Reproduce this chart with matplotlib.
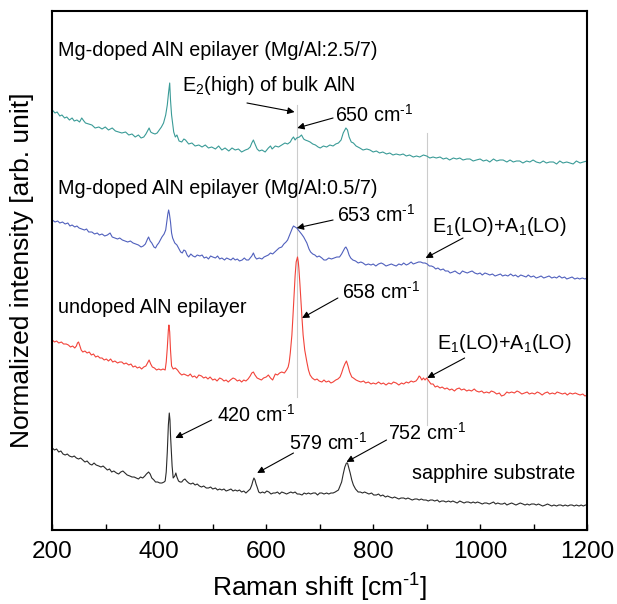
import matplotlib
matplotlib.use("Agg")
import matplotlib.pyplot as plt
from matplotlib.ticker import MultipleLocator

plt.rcParams['font.family'] = ['Liberation Sans', 'DejaVu Sans']
plt.rcParams['mathtext.fontset'] = 'custom'
plt.rcParams['mathtext.rm'] = 'Liberation Sans'
plt.rcParams['mathtext.it'] = 'Liberation Sans:italic'
plt.rcParams['mathtext.default'] = 'regular'

# Mg-doped AlN epilayer (Mg/Al:2.5/7)
x_mg25 = [200, 205, 209, 214, 218, 223, 227, 232, 237, 241, 246, 251, 255, 259, 262, 268, 274, 280, 287, 293,
          299, 305, 312, 318, 324, 330, 337, 343, 349, 355, 361, 366, 371, 375, 378, 381, 384, 387, 392, 396,
          400, 404, 408, 412, 415, 417.5, 419.5, 421, 423, 427, 430, 433, 437, 442, 446, 449, 455, 461, 467, 474,
          480, 486, 492, 498, 505, 511, 517, 523, 530, 536, 542, 548, 554, 561, 566, 570, 573, 576, 579, 583,
          587, 592, 598, 604, 608, 611, 617, 623, 629, 635, 640, 645, 648, 651, 654, 657, 662, 666, 670, 673,
          678, 682, 687, 692, 697, 701, 707, 713, 719, 725, 730, 735, 740, 744, 749, 752, 755, 759, 763, 768,
          775, 781, 788, 794, 800, 806, 812, 818, 825, 831, 837, 843, 850, 856, 862, 868, 875, 881, 887, 894,
          900, 906, 912, 918, 925, 931, 937, 943, 950, 956, 962, 968, 975, 981, 987, 993, 1000, 1006, 1012, 1018,
          1025, 1031, 1037, 1043, 1050, 1056, 1062, 1068, 1074, 1080, 1087, 1093, 1099, 1105, 1112, 1118, 1124, 1130, 1137, 1143,
          1149, 1155, 1162, 1168, 1174, 1180, 1187, 1193, 1200]
y_mg25 = [420, 417, 418, 414, 415, 412, 413, 410, 412, 409, 410, 408, 412, 409, 407, 406, 405, 402, 403, 401,
          403, 400, 402, 399, 398, 397, 398, 395, 396, 393, 395, 392, 393, 396, 399, 402, 398, 397, 396, 397,
          400, 403, 407, 415, 425, 438, 447, 430, 415, 398, 393, 395, 389, 388, 391, 390, 386, 387, 384, 385,
          383, 385, 382, 383, 381, 384, 380, 382, 379, 382, 380, 381, 378, 380, 381, 383, 387, 390, 386, 381,
          379, 380, 378, 382, 384, 381, 384, 383, 385, 387, 386, 388, 391, 393, 390, 392, 393, 395, 391, 390,
          389, 388, 386, 385, 383, 382, 384, 383, 385, 384, 386, 387, 390, 397, 402, 400, 393, 388, 387, 384,
          382, 380, 381, 380, 378, 379, 377, 378, 376, 377, 375, 376, 375, 376, 374, 375, 373, 374, 373, 375,
          374, 372, 373, 372, 373, 371, 372, 370, 372, 371, 372, 370, 371, 371, 369, 370, 371, 369, 370, 368,
          371, 369, 370, 370, 368, 370, 368, 369, 369, 367, 369, 368, 370, 368, 367, 369, 367, 368, 368, 366,
          369, 367, 368, 367, 366, 369, 367, 368, 369]

# Mg-doped AlN epilayer (Mg/Al:0.5/7)
x_mg05 = [200, 205, 210, 214, 219, 224, 229, 233, 237, 242, 246, 250, 255, 260, 264, 268, 274, 279, 284, 288,
          293, 298, 303, 308, 312, 317, 322, 326, 331, 336, 341, 346, 351, 356, 361, 366, 370, 374, 378, 380,
          383, 386, 390, 393, 396, 399, 402, 405, 409, 412, 414, 416, 417.5, 419, 421, 423, 425, 429, 433, 437,
          440, 443, 446, 449, 452, 455, 459, 463, 467, 471, 476, 480, 484, 488, 492, 496, 500, 505, 509, 513,
          517, 522, 526, 530, 534, 538, 542, 546, 550, 555, 559, 563, 567, 570, 573, 576, 579, 582, 587, 592,
          596, 600, 604, 608, 612, 616, 620, 624, 629, 633, 637, 640, 643, 646, 649, 651, 654, 657, 660, 663,
          666, 670, 673, 676, 680, 683, 687, 691, 695, 699, 704, 708, 712, 717, 722, 727, 732, 737, 741, 744,
          747, 749, 752, 755, 758, 762, 767, 772, 777, 781, 786, 791, 796, 800, 805, 810, 815, 819, 824, 829,
          834, 838, 843, 848, 853, 857, 862, 866, 871, 875, 880, 885, 889, 893, 897, 901, 905, 909, 913, 917,
          921, 926, 931, 935, 940, 944, 949, 953, 958, 962, 967, 971, 976, 980, 985, 990, 995, 1000, 1004, 1009,
          1014, 1018, 1023, 1028, 1033, 1038, 1042, 1047, 1052, 1057, 1062, 1066, 1071, 1076, 1081, 1086, 1090, 1095, 1100, 1105,
          1110, 1114, 1119, 1124, 1129, 1134, 1139, 1143, 1148, 1153, 1158, 1162, 1167, 1172, 1177, 1182, 1186, 1191, 1196, 1200]
y_mg05 = [310, 308, 309, 307, 308, 306, 307, 304, 305, 303, 304, 302, 301, 300, 301, 298, 298, 296, 297, 295,
          296, 294, 295, 297, 293, 292, 291, 292, 290, 289, 288, 289, 287, 286, 285, 283, 284, 286, 291, 293,
          289, 287, 283, 282, 285, 287, 290, 293, 296, 300, 308, 316, 320, 316, 308, 297, 292, 287, 285, 281,
          278, 277, 280, 279, 275, 273, 276, 274, 273, 275, 274, 275, 272, 273, 271, 274, 273, 272, 274, 271,
          272, 270, 272, 271, 270, 272, 270, 271, 269, 270, 272, 270, 270, 272, 274, 277, 273, 271, 272, 271,
          273, 274, 275, 277, 276, 278, 280, 282, 283, 286, 288, 290, 294, 298, 302, 304, 303, 302, 300, 298,
          296, 293, 290, 287, 281, 278, 276, 275, 273, 274, 272, 270, 270, 272, 271, 272, 273, 273, 276, 279,
          282, 283, 280, 275, 272, 270, 269, 267, 268, 267, 265, 266, 265, 266, 264, 266, 267, 266, 264, 265,
          266, 265, 264, 266, 265, 267, 265, 266, 268, 266, 267, 268, 268, 267, 267, 266, 264, 264, 263, 261,
          262, 260, 261, 259, 259, 257, 258, 259, 257, 256, 259, 258, 257, 258, 259, 257, 256, 257, 255, 257,
          256, 255, 256, 254, 255, 256, 254, 255, 254, 256, 254, 255, 253, 255, 254, 253, 255, 253, 254, 252,
          253, 254, 252, 253, 254, 252, 253, 252, 254, 252, 253, 251, 252, 253, 251, 252, 251, 252, 251, 252]

# undoped AlN epilayer
x_undoped = [200, 204, 208, 212, 217, 221, 226, 230, 234, 238, 242, 245, 247, 249, 251, 254, 257, 261, 265, 269,
             273, 277, 281, 285, 289, 293, 297, 301, 305, 309, 313, 317, 322, 326, 330, 334, 338, 343, 347, 351,
             355, 359, 363, 367, 371, 375, 378, 381, 384, 387, 391, 395, 399, 403, 407, 411, 413, 415, 417, 418,
             419.5, 421, 423, 426, 430, 434, 438, 442, 446, 450, 454, 458, 462, 466, 470, 474, 479, 483, 487, 491,
             495, 500, 504, 508, 513, 517, 521, 525, 529, 533, 538, 542, 546, 550, 554, 558, 562, 566, 570, 573,
             576, 579, 583, 587, 591, 595, 600, 604, 608, 612, 617, 621, 625, 629, 634, 638, 641, 643, 645, 648,
             650, 652, 654, 656, 658.5, 660, 661, 663, 665, 667, 669, 672, 676, 679, 682, 686, 691, 695, 699, 704,
             708, 712, 717, 721, 725, 730, 734, 738, 741, 744, 747, 750, 753, 756, 760, 763, 768, 772, 777, 782,
             786, 791, 796, 800, 805, 810, 815, 819, 824, 829, 834, 838, 843, 848, 853, 857, 862, 866, 871, 875,
             880, 883, 886, 888, 891, 894, 897, 900, 904, 908, 912, 916, 920, 925, 929, 934, 938, 943, 947, 952,
             956, 961, 965, 970, 975, 979, 984, 989, 993, 998, 1003, 1007, 1012, 1017, 1021, 1026, 1031, 1036, 1040, 1045,
             1050, 1054, 1059, 1064, 1069, 1073, 1078, 1083, 1088, 1092, 1097, 1102, 1107, 1111, 1116, 1121, 1126, 1130, 1135, 1140,
             1144, 1149, 1154, 1159, 1163, 1168, 1173, 1178, 1182, 1187, 1192, 1196, 1200]
y_undoped = [190, 188, 189, 187, 188, 186, 186, 185, 183, 184, 182, 184, 187, 188, 185, 180, 178, 179, 177, 178,
             175, 176, 173, 174, 172, 172, 170, 171, 169, 171, 168, 169, 167, 168, 168, 166, 167, 165, 166, 163,
             164, 162, 163, 161, 163, 164, 167, 170, 166, 163, 162, 160, 161, 160, 161, 160, 168, 182, 200, 205,
             198, 180, 164, 161, 162, 160, 157, 155, 156, 155, 154, 156, 153, 154, 152, 155, 154, 152, 153, 151,
             153, 150, 151, 149, 152, 151, 149, 150, 148, 150, 152, 151, 149, 150, 148, 150, 149, 151, 154, 157,
             158, 155, 152, 151, 150, 152, 153, 155, 152, 150, 156, 155, 157, 158, 157, 160, 163, 168, 177, 195,
             214, 235, 254, 268, 273, 268, 262, 246, 228, 211, 195, 180, 168, 160, 155, 152, 150, 151, 149, 148,
             150, 148, 149, 147, 148, 150, 151, 153, 157, 162, 166, 169, 164, 158, 153, 152, 150, 149, 148, 149,
             147, 148, 146, 147, 146, 148, 146, 147, 145, 147, 146, 148, 147, 145, 147, 146, 148, 147, 149, 148,
             149, 151, 154, 153, 150, 152, 150, 152, 149, 146, 146, 143, 144, 142, 143, 141, 142, 140, 141, 139,
             141, 142, 140, 141, 139, 140, 139, 141, 139, 138, 139, 137, 138, 137, 139, 138, 136, 137, 134, 135,
             138, 137, 138, 137, 139, 138, 136, 137, 138, 136, 137, 136, 138, 137, 135, 137, 138, 136, 137, 136,
             138, 137, 136, 137, 135, 137, 136, 137, 136, 135, 136, 134, 135]

# sapphire substrate
x_sapphire = [200, 204, 208, 212, 216, 220, 224, 228, 232, 237, 241, 245, 249, 253, 257, 261, 265, 270, 274, 278,
              282, 287, 291, 295, 299, 303, 307, 311, 315, 320, 324, 328, 332, 336, 340, 345, 349, 353, 357, 361,
              365, 369, 373, 376, 378, 380, 383, 386, 390, 393, 397, 401, 405, 409, 411, 413, 415, 417, 418.7, 420,
              421, 422.5, 424, 426, 429, 431, 433, 436, 439, 442, 445, 448, 451, 455, 459, 463, 467, 471, 475, 479,
              483, 488, 492, 496, 500, 505, 509, 513, 517, 521, 525, 530, 534, 538, 542, 546, 550, 554, 558, 562,
              566, 570, 573, 575, 577, 579, 581, 583, 586, 589, 593, 597, 601, 605, 609, 613, 617, 621, 625, 629,
              634, 638, 642, 646, 650, 654, 658, 662, 667, 671, 675, 679, 683, 688, 692, 696, 700, 704, 708, 713,
              717, 721, 725, 729, 732, 735, 738, 741, 744, 747, 750, 752, 754, 757, 760, 763, 767, 772, 776, 780,
              784, 788, 792, 797, 801, 806, 810, 814, 818, 823, 827, 831, 836, 840, 844, 848, 852, 857, 861, 865,
              869, 873, 878, 882, 886, 890, 894, 899, 903, 907, 911, 915, 920, 924, 928, 932, 936, 941, 945, 949,
              953, 957, 962, 966, 970, 974, 978, 983, 987, 991, 995, 1000, 1004, 1008, 1012, 1017, 1021, 1025, 1029, 1033,
              1038, 1042, 1046, 1050, 1054, 1059, 1063, 1067, 1071, 1075, 1080, 1084, 1088, 1092, 1096, 1101, 1105, 1109, 1113, 1117,
              1122, 1126, 1130, 1134, 1138, 1143, 1147, 1151, 1155, 1159, 1164, 1168, 1172, 1176, 1180, 1185, 1189, 1193, 1197, 1200]
y_sapphire = [82, 80, 81, 78, 79, 76, 75, 76, 74, 73, 74, 72, 71, 72, 70, 68, 69, 66, 65, 67,
              65, 64, 63, 64, 62, 60, 61, 58, 59, 57, 56, 58, 59, 57, 55, 54, 53, 53, 52, 51,
              53, 52, 54, 56, 57, 58, 56, 52, 50, 48, 48, 47, 47, 48, 49, 58, 78, 105, 117, 110,
              95, 80, 64, 52, 54, 57, 53, 49, 48, 48, 50, 51, 49, 47, 46, 47, 45, 46, 44, 43,
              44, 42, 42, 43, 41, 42, 40, 41, 40, 41, 39, 40, 41, 39, 40, 39, 40, 38, 39, 37,
              39, 41, 45, 49, 52, 50, 46, 43, 38, 37, 38, 37, 39, 38, 36, 37, 37, 38, 36, 38,
              37, 36, 37, 38, 37, 38, 36, 36, 35, 37, 36, 37, 36, 37, 37, 35, 37, 37, 36, 37,
              36, 37, 37, 38, 39, 40, 44, 48, 56, 63, 67, 67, 63, 57, 50, 45, 41, 38, 38, 37,
              38, 37, 36, 37, 35, 35, 36, 34, 35, 33, 34, 33, 32, 33, 32, 31, 32, 32, 31, 32,
              31, 30, 31, 31, 30, 31, 30, 30, 29, 30, 30, 29, 30, 28, 29, 29, 28, 29, 28, 29,
              28, 27, 29, 28, 27, 28, 28, 27, 28, 27, 28, 27, 26, 27, 27, 26, 27, 28, 26, 27,
              26, 26, 27, 25, 26, 27, 26, 25, 26, 27, 26, 25, 26, 25, 26, 26, 25, 26, 25, 24,
              25, 26, 25, 24, 25, 24, 25, 25, 24, 25, 24, 25, 25, 24, 25, 24, 25, 24, 25, 25]

fig = plt.figure(figsize=(6.17, 6.04), dpi=100)
ax = fig.add_axes([0.0848, 0.1225, 0.8667, 0.8593])

ax.plot(x_mg25, y_mg25, color='#3a9b97', lw=0.8)
ax.plot(x_mg05, y_mg05, color='#5060bd', lw=0.8)
ax.plot(x_undoped, y_undoped, color='#f2433a', lw=0.8)
ax.plot(x_sapphire, y_sapphire, color='#2a2a2a', lw=0.8)

# guide lines
ax.plot([658, 658], [133, 425], color='#cccccc', lw=0.8, zorder=0)
ax.plot([900, 900], [105, 397], color='#cccccc', lw=0.8, zorder=0)

cm = r'cm$^{\text{-1}}$'
fs = 14.2
ax.text(211, 479, 'Mg-doped AlN epilayer (Mg/Al:2.5/7)', fontsize=fs, va='center')
ax.text(211, 341, 'Mg-doped AlN epilayer (Mg/Al:0.5/7)', fontsize=fs, va='center')
ax.text(211, 223, 'undoped AlN epilayer', fontsize=fs, va='center')
ax.text(872, 57, 'sapphire substrate', fontsize=fs, va='center')

ax.text(443, 444, 'E$_2$(high) of bulk AlN', fontsize=fs, va='center')
ax.text(728, 415, '650 ' + cm, fontsize=fs, va='center')
ax.text(732, 315, '653 ' + cm, fontsize=fs, va='center')
ax.text(741, 238, '658 ' + cm, fontsize=fs, va='center')
ax.text(910, 303, 'E$_1$(LO)+A$_1$(LO)', fontsize=fs, va='center')
ax.text(919, 187, 'E$_1$(LO)+A$_1$(LO)', fontsize=fs, va='center')
ax.text(508, 115, '420 ' + cm, fontsize=fs, va='center')
ax.text(642, 87, '579 ' + cm, fontsize=fs, va='center')
ax.text(827, 97, '752 ' + cm, fontsize=fs, va='center')

arrows = [((653, 418), (564, 427)),
          ((658, 402), (725, 412)),
          ((657, 302), (725, 310)),
          ((667, 212), (734, 232)),
          ((898, 272), (968, 292)),
          ((901, 152), (971, 172)),
          ((430, 92), (498, 110)),
          ((583, 57), (651, 77)),
          ((750, 68), (825, 90))]
for head, tail in arrows:
    ax.annotate('', xy=head, xytext=tail,
                arrowprops=dict(arrowstyle='-|>', color='k', lw=0.8,
                                mutation_scale=10, shrinkA=0, shrinkB=0))

ax.set_xlim(200, 1200)
ax.set_ylim(0, 519)
ax.xaxis.set_major_locator(MultipleLocator(200))
ax.xaxis.set_minor_locator(MultipleLocator(100))
ax.tick_params(axis='x', which='both', direction='in', length=4, width=1, labelsize=17.5, pad=8)
ax.tick_params(axis='y', left=False, labelleft=False)
for s in ax.spines.values():
    s.set_linewidth(1.5)

ax.set_xlabel('Raman shift [' + cm + ']', fontsize=19, labelpad=6)
ax.set_ylabel('Normalized intensity [arb. unit]', fontsize=19, labelpad=13)

fig.savefig('out.png', dpi=100)
